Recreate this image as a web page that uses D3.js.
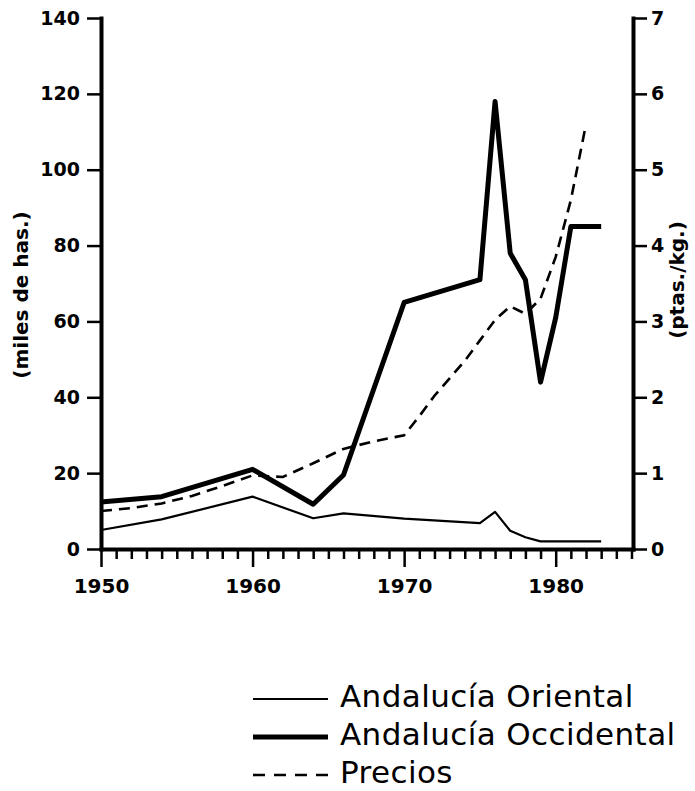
<!DOCTYPE html>
<html>
<head>
<meta charset="utf-8">
<script src="https://cdn.jsdelivr.net/npm/d3@7"></script>
<style>
    body { margin: 0; background: #fff; }
    svg { display: block; }
</style>
</head>
<body>
<div id="chart"><svg width="695" height="791"></svg></div>
<script>
var years = [1950, 1954, 1960, 1964, 1966, 1970, 1975, 1976, 1977, 1978, 1979, 1980, 1981, 1982, 1983];
var oriental = [5, 7.8, 13.8, 8.1, 9.4, 8, 6.8, 9.8, 4.8, 3.1, 2, 2, 2, 2, 2];

var occYears = [1950, 1954, 1960, 1964, 1966, 1970, 1975, 1976, 1977, 1978, 1979, 1980, 1981, 1983];
var occidental = [12.4, 13.8, 21, 11.8, 19.5, 65, 71, 118, 78, 71, 44, 61, 85, 85];

var priceYears = [1950, 1952, 1954, 1956, 1958, 1960, 1962, 1964, 1966, 1968, 1970, 1971, 1972,
                  1973, 1974, 1975, 1976, 1977, 1978, 1979, 1980, 1981, 1982];
var precios = [0.5, 0.54, 0.6, 0.7, 0.83, 0.97, 0.95, 1.13, 1.32, 1.42, 1.5, 1.75, 2.02,
               2.25, 2.48, 2.75, 3.02, 3.2, 3.1, 3.3, 3.85, 4.6, 5.6];

var leftTicks = [0, 20, 40, 60, 80, 100, 120, 140];
var rightTicks = [0, 1, 2, 3, 4, 5, 6, 7];
var yearTicks = d3.range(1950, 1986);
var legendLabels = ['Andalucía Oriental', 'Andalucía Occidental', 'Precios'];

function AreaChart(root) {
    this.svg = d3.select(root).select('svg');
    this.left = 101;
    this.right = 633;
    this.top = 18;
    this.bottom = 549;
    this.font = '"DejaVu Sans", sans-serif';

    this.x = d3.scaleLinear().domain([1950, 1985.1]).range([this.left, this.right]);
    this.yHa = d3.scaleLinear().domain([0, 140]).range([this.bottom, this.top]);
    this.yPrice = d3.scaleLinear().domain([0, 7]).range([this.bottom, this.top]);

    this._drawAxes();
    this._drawLines();
    this._drawLegend();
};

AreaChart.prototype._drawAxes = function() {
    var font = this.font;

    // Left axis (hectares).
    var gl = this.svg.append('g')
        .attr('transform', 'translate(' + this.left + ',0)')
        .call(d3.axisLeft(this.yHa).tickValues(leftTicks).tickSize(14)
            .tickSizeOuter(0).tickPadding(7));

    // Right axis (price).
    var gr = this.svg.append('g')
        .attr('transform', 'translate(' + this.right + ',0)')
        .call(d3.axisRight(this.yPrice).tickValues(rightTicks).tickSize(14)
            .tickSizeOuter(0).tickPadding(4).tickFormat(d3.format('d')));

    // Bottom axis, one tick a year.
    var gb = this.svg.append('g')
        .attr('transform', 'translate(0,' + this.bottom + ')')
        .call(d3.axisBottom(this.x).tickValues(yearTicks).tickSize(10)
            .tickSizeOuter(0)
            .tickFormat(function(d) { return d % 10 === 0 ? d : ''; }));

    gb.selectAll('.tick line')
        .attr('y2', function(d) { return d % 10 === 0 ? 18 : 10; });
    gb.selectAll('.tick text')
        .attr('y', 30);

    [gl, gr, gb].forEach(function(g) {
        g.select('.domain')
            .attr('stroke', '#000')
            .attr('stroke-width', 4)
            .attr('stroke-linecap', 'square');
        g.selectAll('.tick line')
            .attr('stroke', '#000')
            .attr('stroke-width', 2.5);
        g.selectAll('.tick text')
            .attr('fill', '#000')
            .attr('font-family', font)
            .attr('font-weight', 'bold')
            .attr('font-size', 19);
    });
    gb.selectAll('.tick text').attr('font-size', 20);

    // Axis titles.
    this.svg.append('text')
        .attr('transform', 'translate(22,295) rotate(-90)')
        .attr('text-anchor', 'middle')
        .attr('dominant-baseline', 'middle')
        .attr('font-family', font)
        .attr('font-weight', 'bold')
        .attr('font-size', 20)
        .text('(miles de has.)');

    this.svg.append('text')
        .attr('transform', 'translate(678,280) rotate(-90)')
        .attr('text-anchor', 'middle')
        .attr('dominant-baseline', 'middle')
        .attr('font-family', font)
        .attr('font-weight', 'bold')
        .attr('font-size', 20)
        .text('(ptas./kg.)');
};

AreaChart.prototype._drawLines = function() {
    var x = this.x, yHa = this.yHa, yPrice = this.yPrice;

    var lineHa = d3.line()
        .x(function(d) { return x(d[0]); })
        .y(function(d) { return yHa(d[1]); });
    var linePrice = d3.line()
        .x(function(d) { return x(d[0]); })
        .y(function(d) { return yPrice(d[1]); });

    this.svg.append('path')
        .datum(d3.zip(years, oriental))
        .attr('d', lineHa)
        .attr('fill', 'none')
        .attr('stroke', '#000')
        .attr('stroke-width', 2.2)
        .attr('stroke-linejoin', 'round');

    this.svg.append('path')
        .datum(d3.zip(occYears, occidental))
        .attr('d', lineHa)
        .attr('fill', 'none')
        .attr('stroke', '#000')
        .attr('stroke-width', 5)
        .attr('stroke-linejoin', 'round');

    this.svg.append('path')
        .datum(d3.zip(priceYears, precios))
        .attr('d', linePrice)
        .attr('fill', 'none')
        .attr('stroke', '#000')
        .attr('stroke-width', 2.6)
        .attr('stroke-dasharray', '11,7');
};

AreaChart.prototype._drawLegend = function() {
    var styles = [
        { width: 2.2, dash: null },
        { width: 5, dash: null },
        { width: 2.6, dash: '12,9' }
    ];

    var rows = this.svg.append('g')
        .selectAll('g')
        .data(legendLabels)
        .join('g')
        .attr('transform', function(d, i) { return 'translate(0,' + (699 + i * 38) + ')'; });

    rows.append('line')
        .attr('x1', 253)
        .attr('x2', 328)
        .attr('stroke', '#000')
        .attr('stroke-width', function(d, i) { return styles[i].width; })
        .attr('stroke-dasharray', function(d, i) { return styles[i].dash; });

    rows.append('text')
        .attr('x', 340)
        .attr('y', 8)
        .attr('font-family', this.font)
        .attr('font-size', 31)
        .attr('letter-spacing', 0.4)
        .text(function(d) { return d; });
};

var chart = new AreaChart('#chart');
</script>
</body>
</html>
